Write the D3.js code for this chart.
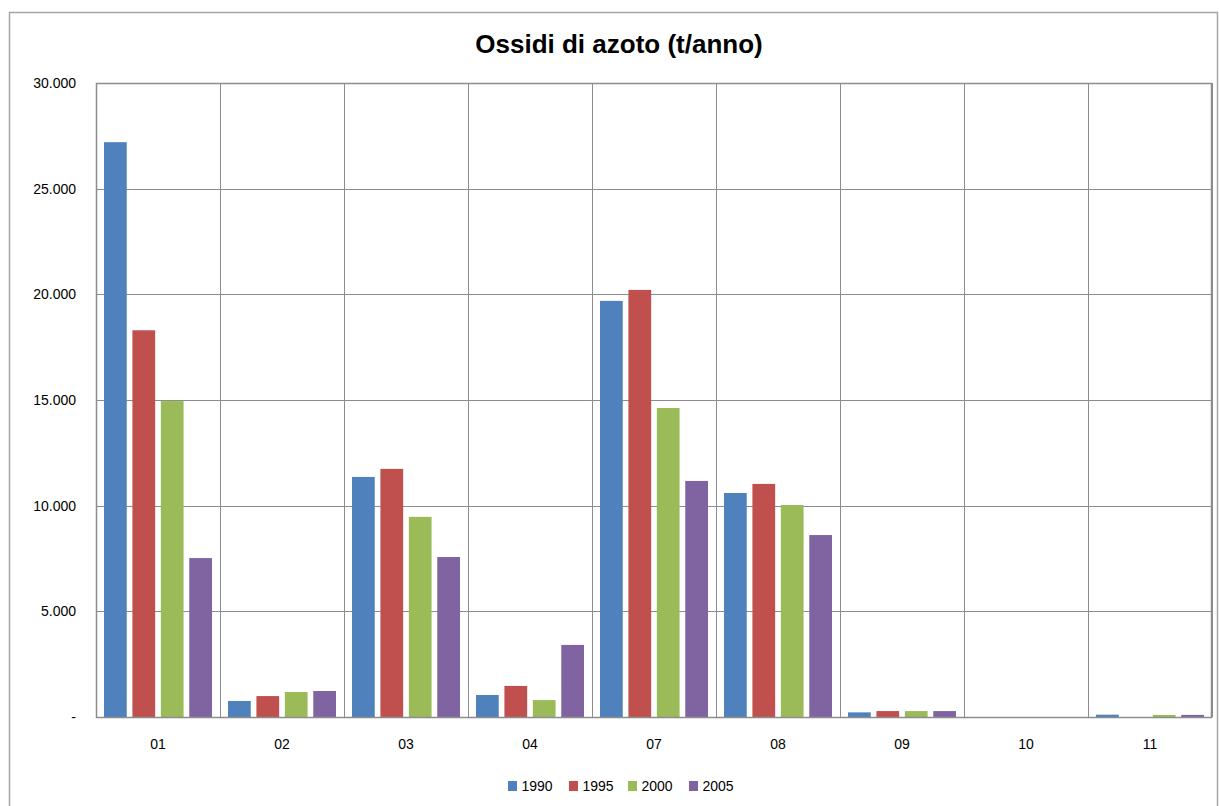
<!DOCTYPE html>
<html><head><meta charset="utf-8">
<script src="https://cdn.jsdelivr.net/npm/d3@7/dist/d3.min.js"></script>
<style>body{margin:0;background:#fff;}svg{display:block;}</style>
</head><body>
<svg id="chart" width="1219" height="806"></svg>
<script>
const categories = ["01","02","03","04","07","08","09","10","11"];
const seriesNames = ["1990","1995","2000","2005"];
const s1990 = [27200, 760, 11360, 1040, 19690, 10600, 220, 0, 110];
const s1995 = [18300, 990, 11740, 1470, 20210, 11030, 280, 0, 0];
const s2000 = [14950, 1180, 9470, 800, 14620, 10030, 280, 0, 100];
const s2005 = [7520, 1230, 7570, 3410, 11170, 8610, 280, 0, 100];
const yTicks = [0, 5000, 10000, 15000, 20000, 25000, 30000];
const colors = ["#4F81BD","#C0504D","#9BBB59","#8064A2"];
const series = [s1990, s1995, s2000, s2005];

const svg = d3.select("#chart");
const font = "'Liberation Sans', Arial, sans-serif";
svg.append("rect").attr("x",9.5).attr("y",12.5).attr("width",1208).attr("height",800)
  .attr("fill","#fff").attr("stroke","#a6a6a6").attr("stroke-width",1.5);

const L=96, R=1212, T=83, B=717;
const x0 = d3.scaleBand().domain(categories).range([L,R]).padding(0);
const x1 = d3.scaleBand().domain(seriesNames).range([8,116]).paddingInner(0.2).paddingOuter(0);
const y = d3.scaleLinear().domain([0,30000]).range([B,T]);

const g = svg.append("g");
// horizontal grid
g.selectAll("line.h").data(yTicks).enter().append("line")
  .attr("x1",L).attr("x2",R).attr("y1",d=>Math.round(y(d))+0.5).attr("y2",d=>Math.round(y(d))+0.5)
  .attr("stroke","#8c8c8c").attr("stroke-width",1);
// vertical grid
const vx = categories.map(c=>x0(c)).concat([R]);
g.selectAll("line.v").data(vx).enter().append("line")
  .attr("x1",d=>Math.round(d)+0.5).attr("x2",d=>Math.round(d)+0.5).attr("y1",T).attr("y2",B)
  .attr("stroke","#8c8c8c").attr("stroke-width",1);

// bars
categories.forEach((c,i)=>{
  seriesNames.forEach((s,j)=>{
    const v = series[j][i];
    if(v<=0) return;
    g.append("rect").attr("x",x0(c)+x1(s)).attr("width",x1.bandwidth())
      .attr("y",y(v)).attr("height",B-y(v)).attr("fill",colors[j]);
  });
});
// plot border
g.append("rect").attr("x",L+0.5).attr("y",T+0.5).attr("width",R-L-1).attr("height",B-T)
  .attr("fill","none").attr("stroke","#8c8c8c").attr("stroke-width",1.5);

// y axis labels
const yAxis = d3.axisLeft(y).tickValues(yTicks).tickSize(0).tickPadding(0)
  .tickFormat(d=> d===0 ? "-" : d3.format(",")(d).replace(/,/g,"."));
const ya = svg.append("g").attr("transform",`translate(76,0)`).call(yAxis);
ya.select(".domain").remove();
ya.selectAll("text").attr("font-family",font).attr("font-size",14).attr("fill","#000");

// x axis labels
const xAxis = d3.axisBottom(x0).tickSize(0).tickPadding(0);
const xa = svg.append("g").attr("transform",`translate(0,${B+22})`).call(xAxis);
xa.select(".domain").remove();
xa.selectAll("text").attr("font-family",font).attr("font-size",14).attr("fill","#000");

// title
svg.append("text").attr("x",619).attr("y",53).attr("text-anchor","middle")
  .attr("font-family",font).attr("font-weight","bold").attr("font-size",26).attr("fill","#000")
  .text("Ossidi di azoto (t/anno)");

// legend
const legX = [508, 569, 628, 689];
const leg = svg.append("g");
seriesNames.forEach((s,j)=>{
  const lg = leg.append("g").attr("transform",`translate(${legX[j]},781)`);
  lg.append("rect").attr("x",0).attr("y",0).attr("width",9).attr("height",10).attr("fill",colors[j]);
  lg.append("text").attr("x",13.5).attr("y",10).attr("font-family",font).attr("font-size",14).attr("fill","#000").text(s);
});
</script>
</body></html>
